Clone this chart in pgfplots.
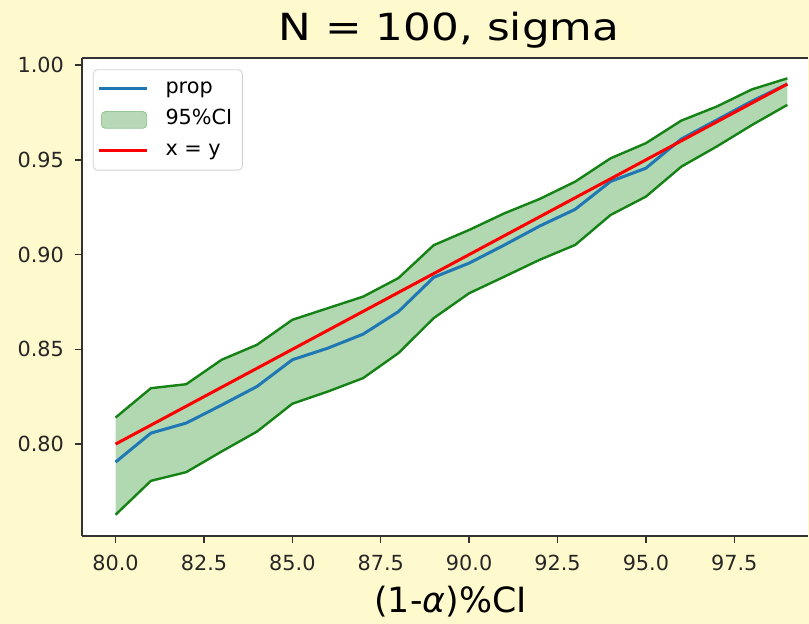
\documentclass[border=0pt]{standalone}
\usepackage{pgfplots}
\pgfplotsset{compat=1.18}
\usepgfplotslibrary{fillbetween}
\usepackage{fontspec}
\setmainfont{DejaVu Sans}
\newfontfamily\titlefont{DejaVu Sans}[FakeStretch=1.17]
\definecolor{bgyellow}{RGB}{255,250,205}
\definecolor{tabblue}{RGB}{31,119,180}
\definecolor{mplgreen}{RGB}{20,130,20}
\definecolor{spine}{RGB}{50,50,50}
\pagecolor{bgyellow}
\begin{document}
\begin{tikzpicture}
\path (0pt,0pt) rectangle (404.5pt,-311pt);
\begin{axis}[
  at={(41pt,-29.15pt)}, anchor=north west,
  scale only axis, width=363.2pt, height=238.85pt,
  xmin=79.05, xmax=99.587, ymin=0.7516, ymax=1.0036,
  axis background/.style={fill=white},
  separate axis lines, axis x line*=box, axis y line*=left,
  axis line style={spine, line width=0.9pt},
  xtick={80,82.5,85,87.5,90,92.5,95,97.5},
  ytick={0.80,0.85,0.90,0.95,1.00},
  tick align=outside, major tick length=3.5pt,
  tick style={spine, line width=0.7pt},
  xtick pos=bottom, ytick pos=left,
  /pgf/number format/assume math mode=true,
  xticklabel style={yshift=-2.5pt, /pgf/number format/.cd, fixed, fixed zerofill, precision=1},
  yticklabel style={xshift=-2pt, /pgf/number format/.cd, fixed, fixed zerofill, precision=2},
  ticklabel style={font=\fontsize{10.4}{12}\selectfont, text=black!85},
  every axis title/.style={at={(0.5,1)}, anchor=base, yshift=8.8pt, xshift=2pt},
  title={N = 100, sigma},
  title style={font=\titlefont\fontsize{18.7}{22}\selectfont},
  xlabel={(1-\textit{α})\%CI},
  every axis x label/.style={at={(0.5,0)}, anchor=base, yshift=-38.4pt, xshift=2.75pt},
  xlabel style={font=\fontsize{17.4}{20}\selectfont},
  legend style={at={(0.0151,0.9768)}, anchor=north west, draw=black!18, rounded corners=2pt,
    fill=white, font=\fontsize{10.4}{12}\selectfont, inner xsep=5pt, inner ysep=4.6pt,
    row sep=5.5pt, column sep=9.15pt, nodes={inner sep=0pt, text height=7.2pt, text depth=2.8pt}},
  legend cell align=left,
]
\addlegendimage{legend image code/.code={\path (0pt,0pt) -- (21.55pt,0pt); \draw[overlay, tabblue, line width=1.5pt] (-2.15pt,0pt) -- (21.55pt,0pt);}}
\addlegendentry{prop}
\addlegendimage{legend image code/.code={\path (0pt,0pt) -- (21.55pt,0pt); \draw[overlay, fill=mplgreen!30, draw=mplgreen!45] (-1.15pt,-4.2pt) rectangle (21.55pt,4.2pt);}}
\addlegendentry{95\%CI}
\addlegendimage{legend image code/.code={\path (0pt,0pt) -- (21.55pt,0pt); \draw[overlay, red, line width=1.5pt] (-2.15pt,0pt) -- (21.55pt,0pt);}}
\addlegendentry{x = y}

\addplot[name path=upper, mplgreen, line width=1.2pt, forget plot] coordinates {
(80,0.8140) (81,0.8295) (82,0.8316) (83,0.8445) (84,0.8524) (85,0.8656) (86,0.8717) (87,0.8778) (88,0.8876) (89,0.9050)
(90,0.9130) (91,0.9218) (92,0.9294) (93,0.9385) (94,0.9508) (95,0.9588) (96,0.9707) (97,0.9781) (98,0.9872) (99,0.9930)};
\addplot[name path=lower, mplgreen, line width=1.2pt, forget plot] coordinates {
(80,0.7627) (81,0.7806) (82,0.7852) (83,0.7961) (84,0.8066) (85,0.8213) (86,0.8277) (87,0.8348) (88,0.8480) (89,0.8665)
(90,0.8796) (91,0.8884) (92,0.8973) (93,0.9051) (94,0.9209) (95,0.9306) (96,0.9464) (97,0.9570) (98,0.9684) (99,0.9790)};
\addplot[fill=green!50!black, fill opacity=0.3, draw=none, forget plot] fill between[of=upper and lower];
\addplot[tabblue, line width=1.5pt, forget plot] coordinates {
(80,0.7905) (81,0.8058) (82,0.8111) (83,0.8206) (84,0.8304) (85,0.8445) (86,0.8506) (87,0.8580) (88,0.8699) (89,0.8880)
(90,0.8955) (91,0.9051) (92,0.9151) (93,0.9239) (94,0.9386) (95,0.9456) (96,0.9610) (97,0.9710) (98,0.9810) (99,0.9900)};
\addplot[red, line width=1.5pt, forget plot] coordinates {
(80,0.80) (81,0.81) (82,0.82) (83,0.83) (84,0.84) (85,0.85) (86,0.86) (87,0.87) (88,0.88) (89,0.89)
(90,0.90) (91,0.91) (92,0.92) (93,0.93) (94,0.94) (95,0.95) (96,0.96) (97,0.97) (98,0.98) (99,0.99)};
\end{axis}
\end{tikzpicture}
\end{document}
